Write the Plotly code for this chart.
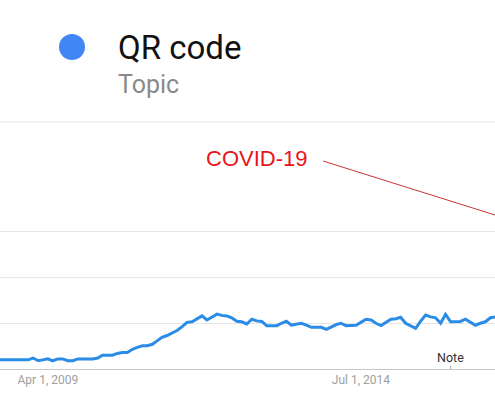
import pandas as pd
import plotly.graph_objects as go

# Monthly interest values (Google Trends style), starting June 2008
start_month = "2008-06-01"
interest = [5, 5, 5, 5, 5, 5, 5, 6, 4.5, 5,
            5.6, 4.5, 5.5, 5.5, 4.5, 4.5, 5.5, 5.5, 5.5, 5.5,
            6, 7.5, 7.5, 7.5, 8.5, 9, 9, 10.8, 11.8, 12.7,
            12.7, 13.5, 15.5, 17.3, 18.3, 19.5, 21, 23, 25.5, 25.8,
            27.5, 29, 26.8, 28.5, 30, 29.3, 29, 28, 26.1, 25.8,
            24.6, 27.2, 26.3, 26, 23.7, 23.7, 23.7, 25, 26.1, 24,
            24.5, 25, 24, 22.8, 22.8, 22.8, 21.7, 23, 24.3, 25,
            23.7, 23.8, 23.9, 25.5, 27.2, 26.8, 25, 23.7, 25.5, 27.2,
            27.5, 28.3, 25, 23.5, 22.2, 26, 29.5, 28.5, 28, 25,
            29.9, 25.8, 26, 26, 27.2, 25.5, 23.9, 25, 25.8, 28, 28.5]
dates = pd.date_range(start_month, periods=len(interest), freq="MS")

tick_dates = ["2009-04-01", "2014-07-01"]
tick_labels = ["Apr 1, 2009", "Jul 1, 2014"]
y_grid = [0, 25, 50, 75, 100]
note_date = "2016-01-01"
x_range = ["2008-06-12", "2016-09-29"]

W, H = 495, 400
T, B = 186, 31
PH = H - T - B


def py(ypix):
    return (H - B - ypix) / PH


def px(xpix):
    return xpix / W


fig = go.Figure()
fig.add_trace(go.Scatter(x=dates, y=interest, mode="lines",
                         line=dict(color="#2a8ce6", width=3),
                         hoverinfo="skip", showlegend=False))

fig.update_layout(
    width=W, height=H,
    margin=dict(l=0, r=0, t=T, b=B),
    paper_bgcolor="white", plot_bgcolor="white",
    font=dict(family="Roboto", color="#999999"),
    xaxis=dict(range=x_range, tickvals=tick_dates, ticktext=tick_labels,
               showgrid=False, showline=True, linecolor="#c8c8c8", linewidth=1,
               ticks="", tickfont=dict(size=12, color="#9e9e9e"),
               zeroline=False, fixedrange=True),
    yaxis=dict(range=[0, 100], tickvals=y_grid, showticklabels=False,
               gridcolor="#e6e6e6", gridwidth=1, zeroline=False,
               showline=False, fixedrange=True),
    shapes=[
        dict(type="line", xref="paper", yref="paper", x0=0, x1=1,
             y0=py(122), y1=py(122), line=dict(color="#e6e6e6", width=1)),
        dict(type="circle", xref="paper", yref="paper",
             x0=px(59), x1=px(85), y0=py(60), y1=py(34),
             fillcolor="#4285f4", line=dict(width=0)),
        dict(type="line", xref="paper", yref="paper",
             x0=px(323), y0=py(161), x1=px(496), y1=py(215.3),
             line=dict(color="#cc3333", width=1)),
        dict(type="line", xref="x", yref="paper", x0=note_date, x1=note_date,
             y0=0, y1=py(366), line=dict(color="#aaaaaa", width=1)),
    ],
    annotations=[
        dict(text="QR code", xref="paper", yref="paper", x=px(116), y=py(47),
             xanchor="left", yanchor="middle", showarrow=False,
             font=dict(family="Roboto", size=33, color="#111111")),
        dict(text="Topic", xref="paper", yref="paper", x=px(116), y=py(84),
             xanchor="left", yanchor="middle", showarrow=False,
             font=dict(family="Roboto", size=25, color="#8a8a8a")),
        dict(text="COVID-19", xref="paper", yref="paper", x=px(256), y=py(158),
             xanchor="center", yanchor="middle", showarrow=False,
             font=dict(family="Liberation Sans, Arial", size=22, color="#e8141c")),
        dict(text="Note", xref="x", yref="paper", x=note_date, y=py(357),
             xanchor="center", yanchor="middle", showarrow=False,
             font=dict(family="Roboto", size=12.5, color="#333333")),
    ],
)

fig.write_html("out.html",
               config={"displayModeBar": False, "staticPlot": True},
               post_script="document.body.style.margin='0';"
                           "document.body.style.overflow='hidden';")
